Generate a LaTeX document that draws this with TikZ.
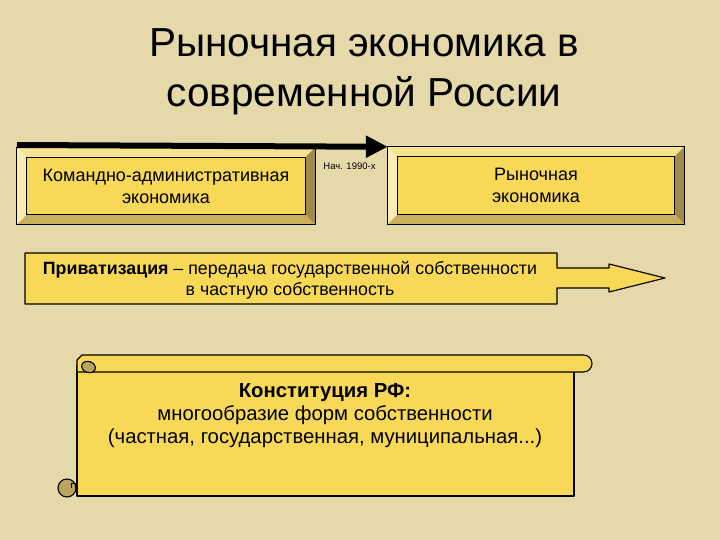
\documentclass[tikz,border=0pt]{standalone}
\usepackage{fontspec}
\setmainfont{Liberation Sans}
\usetikzlibrary{positioning,arrows.meta,calc}
\definecolor{Paper}{HTML}{E6D9A9}
\definecolor{Gold}{HTML}{F7D957}
\definecolor{BevLight}{HTML}{FBEDB2}
\definecolor{BevTop}{HTML}{F5E390}
\definecolor{BevDark}{HTML}{9E8B47}
\definecolor{BevLow}{HTML}{C9AF5C}
\definecolor{Curl}{HTML}{BBA55E}
\newcommand{\bevelframe}[1]{%
  \fill[BevTop] (#1.north west) -- (#1.north east) -- ($(#1.north east)+(-10,10)$) -- ($(#1.north west)+(10,10)$) -- cycle;
  \fill[BevLight] (#1.north west) -- ($(#1.north west)+(10,10)$) -- ($(#1.south west)+(10,-10)$) -- (#1.south west) -- cycle;
  \fill[BevDark] (#1.north east) -- (#1.south east) -- ($(#1.south east)+(-10,-10)$) -- ($(#1.north east)+(-10,10)$) -- cycle;
  \fill[BevLow] (#1.south west) -- (#1.south east) -- ($(#1.south east)+(-10,-10)$) -- ($(#1.south west)+(10,-10)$) -- cycle;
  \draw[line width=0.9pt] (#1.north west) rectangle (#1.south east);
  \draw[line width=0.9pt] ($(#1.north west)+(10,10)$) rectangle ($(#1.south east)+(-10,-10)$);
}

\begin{document}
\begin{tikzpicture}[x=1pt, y=-1pt, every node/.style={font=\fontsize{18}{22}\selectfont}]
        \tikzstyle{panel}=[fill=Gold, align=center, inner sep=0pt, minimum width=298pt, minimum height=77pt]
        \tikzstyle{timeline}=[line width=6pt, -{Triangle[length=22pt, width=21pt]}]
        \tikzstyle{rim}=[draw=black, line width=1.1pt, fill=Gold, line join=round]
        \fill[Paper] (0,0) rectangle (720,540);
        \useasboundingbox (0,0) rectangle (720,540);
        % title
        \node[align=center, font=\fontsize{40.5}{50}\selectfont] (title) at (364,72) {Рыночная экономика в\\современной России};
        % two economies
        \node[panel] (cmd) at (166,186) {Командно-административная\\экономика};
        \node[panel, minimum width=296pt] (mkt) at (536,185.5) {Рыночная\\экономика};
        \bevelframe{cmd}
        \bevelframe{mkt}
        \coordinate (start) at (17,145);
        \draw[timeline] (start) -- (mkt.north west);
        \node[font=\fontsize{9.5}{11}\selectfont] (year) at (349.5,166) {Нач. 1990-х};
        % privatization arrow
        \draw[rim] (25,253) -- (557,253) -- (557,268) -- (609,268) -- (609,264) -- (665,278)
          -- (609,292) -- (609,288) -- (557,288) -- (557,304) -- (25,304) -- cycle;
        \node[align=center, font=\fontsize{17.8}{21}\selectfont] (priv) at (290,280) {\textbf{Приватизация} – передача государственной собственности\\в частную собственность};
        % scroll
        \draw[rim] (77,365) -- (77,496) -- (574,496) -- (574,365);
        \draw[rim] (77,360) -- (82,355) [rounded corners=8.5pt]-- (592,355) -- (592,372) [sharp corners]-- (77,372) -- cycle;
        \draw[rim, fill=Curl, rotate around={-20:(88.5,367)}] (88.5,367) ellipse (7 and 5.5);
        \draw[rim, fill=Curl] (67,488) circle (9);
        \draw[line width=1pt] (76,483) -- (71,483) -- (71,488);
        \node[align=center, font=\fontsize{20.3}{23}\selectfont] (law) at (325,416) {\textbf{Конституция РФ:}\\многообразие форм собственности\\(частная, государственная, муниципальная...)};
      \end{tikzpicture}
\end{document}
